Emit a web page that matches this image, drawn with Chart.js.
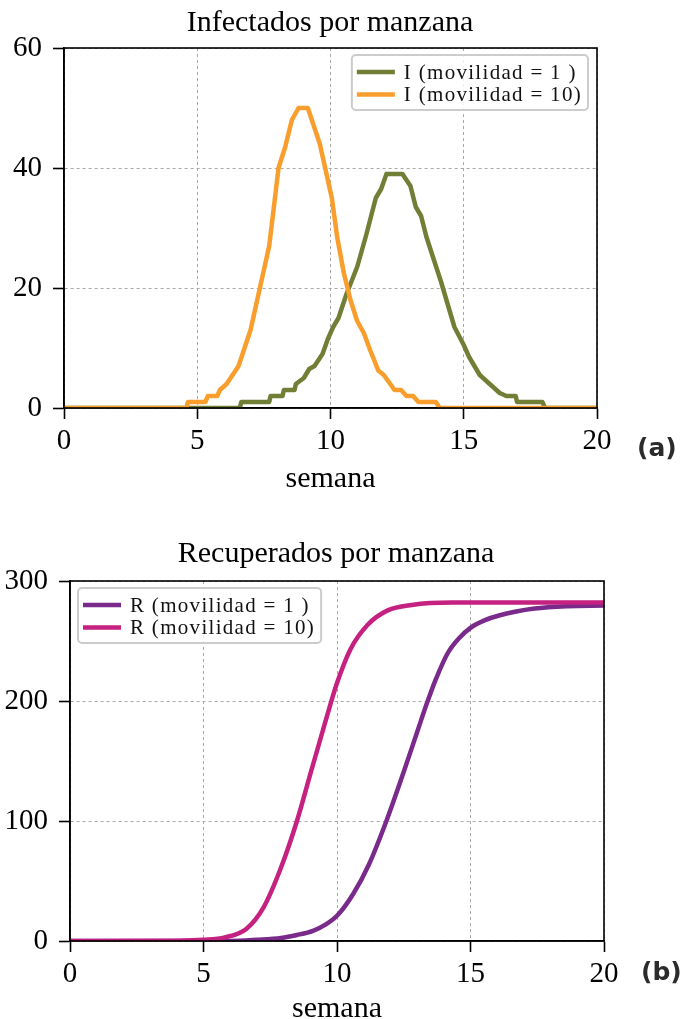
<!DOCTYPE html>
<html>
<head>
<meta charset="utf-8">
<script src="https://cdn.jsdelivr.net/npm/chart.js@4/dist/chart.umd.min.js"></script>
<style>
  html, body { margin: 0; padding: 0; background: #fff; overflow: hidden; }
  body { width: 680px; height: 1019px; position: relative; }
  .panel { position: absolute; left: 0; width: 680px; }
  #top { top: 0; height: 505px; }
  #bottom { top: 505px; height: 530px; }
  .tag { position: absolute; font: bold 25px "DejaVu Sans"; color: #2b2b2b; line-height: 30px; }
</style>
</head>
<body>
<div class="panel" id="top"><canvas id="infChart" width="680" height="505"></canvas></div>
<div class="panel" id="bottom"><canvas id="recChart" width="680" height="530"></canvas></div>
<div class="tag" style="left:637px; top:433px;">(a)</div>
<div class="tag" style="left:641px; top:957px;">(b)</div>
<script>
// tick labels
const ticksSemana = [0, 5, 10, 15, 20];
const ticksI = [0, 20, 40, 60];
const ticksR = [0, 100, 200, 300];

// infectados, movilidad = 1
const semanasI1 = [0, 6.6, 6.65, 7.7, 7.75, 8.2, 8.25, 8.65, 8.7, 9.0, 9.2, 9.4, 9.7, 9.9, 10.1, 10.3, 10.6, 11.0, 11.35, 11.7, 11.9, 12.1, 12.7, 13.0, 13.2, 13.4, 13.6, 14.15, 14.65, 15.0, 15.2, 15.6, 15.85, 16.1, 16.35, 16.6, 16.95, 17.0, 17.95, 18.05, 20];
const infectadosI1 = [0, 0, 1, 1, 2, 2, 3, 3, 4, 5, 6.5, 7, 9, 11.5, 13.5, 15, 19, 23.5, 29, 35, 36.5, 39, 39, 37, 33.5, 32, 28.5, 21, 13.5, 10.5, 8.5, 5.5, 4.5, 3.5, 2.5, 2, 2, 1, 1, 0, 0];

// infectados, movilidad = 10
const semanasI10 = [0, 4.6, 4.65, 5.3, 5.4, 5.75, 5.85, 6.1, 6.55, 7.0, 7.35, 7.7, 8.05, 8.3, 8.55, 8.8, 9.15, 9.6, 10.05, 10.25, 10.5, 10.75, 11.0, 11.25, 11.5, 11.8, 12.0, 12.4, 12.65, 12.85, 13.1, 13.3, 13.95, 14.1, 20];
const infectadosI10 = [0, 0, 1, 1, 2, 2, 3, 4, 7, 13, 20, 27, 40, 43.5, 48, 50, 50, 44, 35, 28.5, 22.5, 18, 14.5, 12.5, 9.5, 6.2, 5.5, 3, 3, 2, 2, 1, 1, 0, 0];

// recuperados, movilidad = 1
const semanasR1 = [0, 6.0, 7.0, 7.9, 8.5, 9.1, 9.6, 10.0, 10.6, 11.2, 11.85, 12.5, 13.0, 13.35, 13.7, 14.15, 14.6, 15.0, 15.5, 16.1, 17.4, 18.6, 20];
const recuperadosR1 = [0, 0, 1, 2.5, 5, 8.5, 14, 21, 39, 64, 100, 141, 174, 197, 218, 240, 253, 261, 267, 271.5, 277, 279, 279.5];

// recuperados, movilidad = 10
const semanasR10 = [0, 4.0, 5.0, 5.8, 6.6, 7.25, 7.9, 8.5, 9.0, 9.4, 9.75, 10.0, 10.5, 11.15, 11.9, 12.8, 14.3, 20];
const recuperadosR10 = [0, 0.3, 1, 3, 10, 28, 61, 100, 139, 170, 197, 215, 243, 263.5, 275.5, 280, 282, 282];

const serif = 'Liberation Serif';
const toPoints = (xs, ys) => xs.map((x, i) => ({ x: x, y: ys[i] }));

// black box round the plot area (matplotlib spines)
const marcoPlugin = {
  id: 'marco',
  afterDatasetsDraw(chart) {
    const { ctx, chartArea: a } = chart;
    ctx.save();
    ctx.strokeStyle = '#000';
    ctx.lineWidth = 1.6;
    ctx.strokeRect(a.left, a.top, a.right - a.left, a.bottom - a.top);
    ctx.restore();
  }
};

// legend box drawn inside the plot area
const leyendaPlugin = {
  id: 'leyenda',
  afterDraw(chart, args, opts) {
    const { ctx, chartArea: a } = chart;
    const sets = chart.data.datasets;
    ctx.save();
    ctx.font = '21px "' + serif + '"';
    ctx.letterSpacing = '1.3px';
    const tw = Math.max(...sets.map(d => ctx.measureText(d.label).width));
    const w = 5 + 38 + 9 + tw + 6;
    const h = 55;
    const x = opts.align === 'right' ? a.right - 9 - w : a.left + 8;
    const y = a.top + 7;
    ctx.beginPath();
    ctx.roundRect(x, y, w, h, 4);
    ctx.fillStyle = 'rgba(255,255,255,0.8)';
    ctx.fill();
    ctx.strokeStyle = '#cccccc';
    ctx.lineWidth = 2;
    ctx.stroke();
    sets.forEach((d, i) => {
      const cy = y + 17 + i * 22.5;
      ctx.strokeStyle = d.borderColor;
      ctx.lineWidth = 4.5;
      ctx.beginPath();
      ctx.moveTo(x + 5, cy);
      ctx.lineTo(x + 43, cy);
      ctx.stroke();
      ctx.fillStyle = '#111';
      ctx.textBaseline = 'middle';
      ctx.fillText(d.label, x + 52, cy + 1);
    });
    ctx.restore();
  }
};

function ejeX(alto, padTitulo) {
  return {
    type: 'linear', min: 0, max: 20,
    afterBuildTicks: s => { s.ticks = ticksSemana.map(v => ({ value: v })); },
    afterFit: s => { s.height = alto; },
    grid: { color: '#a8a8a8', lineWidth: 1, tickLength: 11, tickColor: '#000', tickWidth: 1.6 },
    border: { display: true, color: '#000', width: 1.6, dash: [3, 3] },
    ticks: { font: { family: serif, size: 29 }, color: '#000', padding: 5, maxRotation: 0 },
    title: { display: true, text: 'semana', color: '#000', font: { family: serif, size: 30 }, padding: { top: 0, bottom: padTitulo } }
  };
}

function ejeY(max, ticks, ancho) {
  return {
    type: 'linear', min: 0, max: max,
    afterBuildTicks: s => { s.ticks = ticks.map(v => ({ value: v })); },
    afterFit: s => { s.width = ancho; },
    grid: { color: '#a8a8a8', lineWidth: 1, tickLength: 11, tickColor: '#000', tickWidth: 1.6 },
    border: { display: true, color: '#000', width: 1.6, dash: [3, 3] },
    ticks: { font: { family: serif, size: 29 }, color: '#000', padding: 11 }
  };
}

function ejeDerecho(ancho) {
  return {
    type: 'linear', position: 'right', display: true,
    afterFit: s => { s.width = ancho; },
    grid: { display: false, drawTicks: false },
    border: { display: false },
    ticks: { display: false }
  };
}

new Chart(document.getElementById('infChart'), {
  type: 'line',
  data: {
    datasets: [
      { label: 'I (movilidad = 1 )', data: toPoints(semanasI1, infectadosI1), borderColor: '#717e35', borderWidth: 4.5, pointRadius: 0, order: 1, borderJoinStyle: 'round' },
      { label: 'I (movilidad = 10)', data: toPoints(semanasI10, infectadosI10), borderColor: '#f99d2c', borderWidth: 4.5, pointRadius: 0, order: 0, borderJoinStyle: 'round' }
    ]
  },
  options: {
    responsive: false,
    animation: false,
    events: [],
    layout: { padding: { left: 0, right: 20, top: 0, bottom: 0 } },
    scales: {
      x: ejeX(97, 8),
      y: ejeY(60, ticksI, 64),
      yDer: ejeDerecho(63)
    },
    plugins: {
      legend: { display: false },
      tooltip: { enabled: false },
      title: { display: true, text: 'Infectados por manzana', color: '#000', font: { family: serif, size: 30, weight: 'normal' }, padding: { top: 5, bottom: 7 } },
      leyenda: { align: 'right' }
    }
  },
  plugins: [marcoPlugin, leyendaPlugin]
});

new Chart(document.getElementById('recChart'), {
  type: 'line',
  data: {
    datasets: [
      { label: 'R (movilidad = 1 )', data: toPoints(semanasR1, recuperadosR1), borderColor: '#7a2a8a', borderWidth: 4.5, pointRadius: 0, order: 1, cubicInterpolationMode: 'monotone' },
      { label: 'R (movilidad = 10)', data: toPoints(semanasR10, recuperadosR10), borderColor: '#c52181', borderWidth: 4.5, pointRadius: 0, order: 0, cubicInterpolationMode: 'monotone' }
    ]
  },
  options: {
    responsive: false,
    animation: false,
    events: [],
    layout: { padding: { left: 0, right: 8, top: 0, bottom: 0 } },
    scales: {
      x: ejeX(94, 8),
      y: ejeY(300, ticksR, 70),
      yDer: ejeDerecho(68)
    },
    plugins: {
      legend: { display: false },
      tooltip: { enabled: false },
      title: { display: true, text: 'Recuperados por manzana', color: '#000', font: { family: serif, size: 30, weight: 'normal' }, padding: { top: 31, bottom: 9 } },
      leyenda: { align: 'left' }
    }
  },
  plugins: [marcoPlugin, leyendaPlugin]
});
</script>
</body>
</html>
